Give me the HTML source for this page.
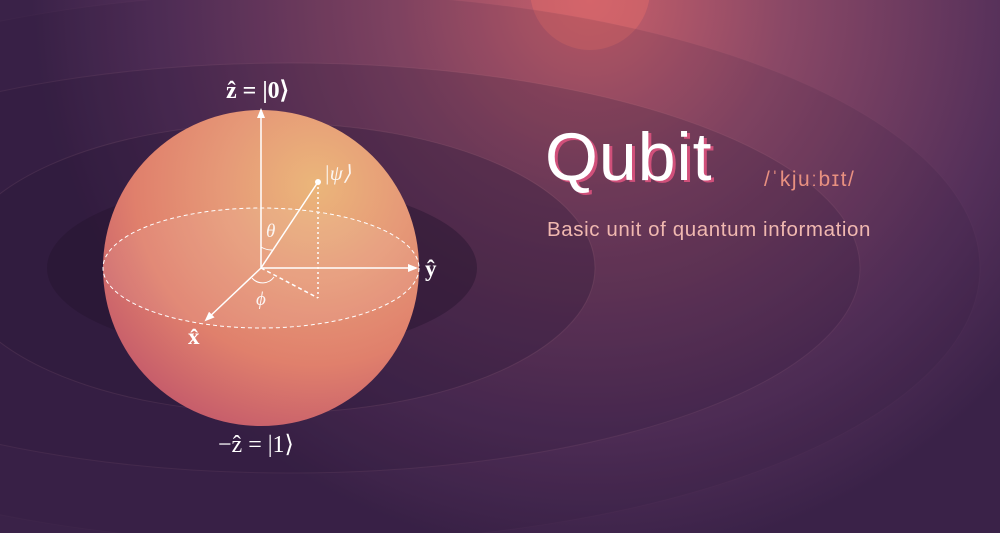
<!DOCTYPE html>
<html><head><meta charset="utf-8"><style>
html,body{margin:0;padding:0;width:1000px;height:533px;overflow:hidden;background:#3a2248}
svg{display:block}
text{font-family:"Liberation Serif",serif;fill:#fff}
</style></head><body>
<svg width="1000" height="533" viewBox="0 0 1000 533">
<defs>
<radialGradient id="bg" cx="590" cy="0" r="560" gradientUnits="userSpaceOnUse">
<stop offset="0" stop-color="#c9606a"/>
<stop offset="0.35" stop-color="#8a4866"/>
<stop offset="0.75" stop-color="#55305a"/>
<stop offset="1" stop-color="#3a2248"/>
</radialGradient>
<radialGradient id="sph" cx="315" cy="185" r="300" gradientUnits="userSpaceOnUse">
<stop offset="0" stop-color="#ebb67a"/>
<stop offset="0.3" stop-color="#e69a78"/>
<stop offset="0.6" stop-color="#e0806c"/>
<stop offset="1" stop-color="#b84a6a"/>
</radialGradient>
<marker id="ah" markerWidth="10" markerHeight="10" refX="8" refY="5" orient="auto" markerUnits="userSpaceOnUse">
<path d="M0,1 L10,5 L0,9 z" fill="#fff"/>
</marker>
</defs>
<rect width="1000" height="533" fill="url(#bg)"/>
<circle cx="590" cy="-10" r="60" fill="#e06a6a" opacity="0.5"/>
<g>
<ellipse cx="300" cy="268" rx="680" ry="275" fill="#2a1838" opacity="0.12" stroke="#e8a0a8" stroke-opacity="0.2"/>
<ellipse cx="290" cy="268" rx="570" ry="205" fill="#2a1838" opacity="0.2" stroke="#f0b0b0" stroke-opacity="0.35"/>
<ellipse cx="275" cy="268" rx="320" ry="145" fill="#2a1838" opacity="0.3" stroke="#f0b0b0" stroke-opacity="0.3"/>
<ellipse cx="262" cy="268" rx="215" ry="85" fill="#25152f" opacity="0.45"/>
</g>
<circle cx="261" cy="268" r="158" fill="url(#sph)"/>
<path d="M103,268 A158,60 0 0 1 419,268 A158,60 0 0 1 103,268 z" fill="#fff" opacity="0.08"/>
<ellipse cx="261" cy="268" rx="158" ry="60" fill="none" stroke="#fff" stroke-width="1" stroke-dasharray="4,3"/>
<g stroke="#fff" stroke-width="1.5" fill="none">
<line x1="261" y1="268" x2="261" y2="110" marker-end="url(#ah)"/>
<line x1="261" y1="268" x2="416" y2="268" marker-end="url(#ah)"/>
<line x1="261" y1="268" x2="206" y2="320" marker-end="url(#ah)"/>
<line x1="261" y1="268" x2="318" y2="182"/>
<line x1="318" y1="182" x2="318" y2="298" stroke-dasharray="2,3"/>
<line x1="261" y1="268" x2="318" y2="298" stroke-dasharray="4,3"/>
<path d="M261,247 A21,21 0 0 0 272,250" stroke-width="1"/>
<path d="M252,278 A14,14 0 0 0 274,277" stroke-width="1"/>
</g>
<circle cx="318" cy="182" r="3" fill="#fff"/>
<text x="226" y="98" font-size="24" font-weight="bold">ẑ = |0⟩</text>
<text x="218" y="452" font-size="24">−ẑ = |1⟩</text>
<text x="425" y="276" font-size="23" font-weight="bold">ŷ</text>
<text x="188" y="344" font-size="23" font-weight="bold">x̂</text>
<text x="324" y="180" font-size="21" font-style="italic" opacity="0.9">|ψ⟩</text>
<text x="266" y="237" font-size="19" font-style="italic" opacity="0.9">θ</text>
<text x="256" y="305" font-size="19" font-style="italic" opacity="0.9">ϕ</text>
<text x="548" y="182" font-size="68" letter-spacing="1" style="font-family:'Liberation Sans',sans-serif;fill:#d0507a">Qubit</text>
<text x="545" y="180" font-size="68" letter-spacing="1" style="font-family:'Liberation Sans',sans-serif;fill:#fff">Qubit</text>
<text x="764" y="186" font-size="21" letter-spacing="1.5" style="font-family:'Liberation Sans','DejaVu Sans',sans-serif;fill:#e89080">/ˈkjuːbɪt/</text>
<text x="547" y="236" font-size="20.5" letter-spacing="0.6" style="font-family:'Liberation Sans',sans-serif;fill:#f0b8b0">Basic unit of quantum information</text>
</svg>
</body></html>
